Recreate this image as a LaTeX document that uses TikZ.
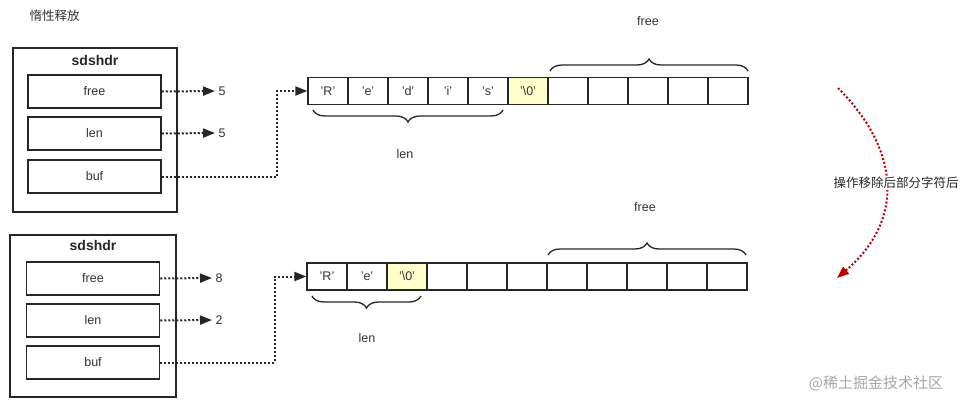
\documentclass[tikz,border=0pt]{standalone}
\usepackage{fontspec}
\setmainfont{Liberation Sans}
\newfontfamily\cjk{Noto Sans CJK SC}
\usetikzlibrary{arrows.meta,decorations.pathreplacing}
\begin{document}
\begin{tikzpicture}[x=1pt,y=-1pt,
  outer/.style={draw=black!85,line width=1.5pt},
  fld/.style={draw=black!85,line width=1.5pt,minimum width=133pt,minimum height=33pt,inner sep=0pt,font=\fontsize{12.5}{14}\selectfont,text=black!80},
  cell/.style={draw=black!85,line width=1.3pt,minimum width=40pt,minimum height=27pt,inner sep=0pt,font=\fontsize{12.5}{14}\selectfont,text=black!80},
  yel/.style={cell,fill={rgb,255:red,255;green,255;blue,204}},
  dots/.style={line width=2pt,dash pattern=on 2pt off 2pt},
  dotar/.style={dots,black!85,-{Triangle[length=12pt,width=9pt]}},
  lbl/.style={font=\fontsize{12.5}{14}\selectfont,text=black!80},
  brc/.style={draw=black!85,line width=1.3pt,decorate,decoration={brace,amplitude=12pt}}]
\useasboundingbox (0,0) rectangle (968,407);
\node[lbl,font=\cjk\fontsize{12.5}{14}\selectfont,anchor=west] (t) at (26,16) {惰性释放};
% top
\draw[outer] (13,48) rectangle (177,212);
\node[font=\bfseries\fontsize{14}{16}\selectfont,text=black!85] (h1) at (95,60) {sdshdr};
\node[fld] (f1) at (94.5,91.5) {free};
\node[fld] (l1) at (94.5,133.5) {len};
\node[fld] (b1) at (94.5,176.5) {buf};
\node[lbl] (v1) at (222,91) {5};
\node[lbl] (v2) at (222,133) {5};
\draw[dotar] (f1.east) -- (v1.west);
\draw[dotar] (l1.east) -- (v2.west);
\foreach \i/\t in {0/'R',1/'e',2/'d',3/'i',4/'s',5/'\textbackslash0',6/,7/,8/,9/,10/}{
  \pgfmathsetmacro\xx{328+40*\i}
  \ifnum\i=5 \node[yel] (a\i) at (\xx,91) {\t};\else\node[cell] (a\i) at (\xx,91) {\t};\fi}
\draw[dotar] (b1.east) -- (277,176.5) -- (277,91) -- (a0.west);
\draw[brc] (503,110) -- (313,110);
\node[lbl] (lenA) at (405,154) {len};
\draw[brc] (550,71) -- (748,71);
\node[lbl] (freeA) at (648,21) {free};
% bottom
\draw[outer] (10,235) rectangle (176,397);
\node[font=\bfseries\fontsize{14}{16}\selectfont,text=black!85] (h2) at (93,245) {sdshdr};
\node[fld] (f2) at (93,278.5) {free};
\node[fld] (l2) at (93,320.5) {len};
\node[fld] (b2) at (93,362.5) {buf};
\node[lbl] (w1) at (219,278) {8};
\node[lbl] (w2) at (219,320) {2};
\draw[dotar] (f2.east) -- (w1.west);
\draw[dotar] (l2.east) -- (w2.west);
\foreach \i/\t in {0/'R',1/'e',2/'\textbackslash0',3/,4/,5/,6/,7/,8/,9/,10/}{
  \pgfmathsetmacro\xx{327+40*\i}
  \ifnum\i=2 \node[yel] (c\i) at (\xx,276.5) {\t};\else\node[cell] (c\i) at (\xx,276.5) {\t};\fi}
\draw[dotar] (b2.east) -- (275,362.5) -- (275,276.5) -- (c0.west);
\draw[brc] (421,296) -- (312,296);
\node[lbl] (lenB) at (367,338) {len};
\draw[brc] (548,255) -- (746,255);
\node[lbl] (freeB) at (645,207) {free};
% red arrow
\coordinate (r0) at (838,88);
\coordinate (r1) at (837,278);
\draw[dots,red!75!black,-{Triangle[length=12pt,width=9pt]}] (r0) .. controls (900,150) and (905,220) .. (r1);
\node[font=\cjk\fontsize{12.5}{14}\selectfont,text=black!85,fill=white,inner sep=1pt] (op) at (896,183) {操作移除后部分字符后};
\node[font=\cjk\fontsize{15}{17}\selectfont,text=black!35] (wm) at (876,383) {@稀土掘金技术社区};
\end{tikzpicture}
\end{document}
